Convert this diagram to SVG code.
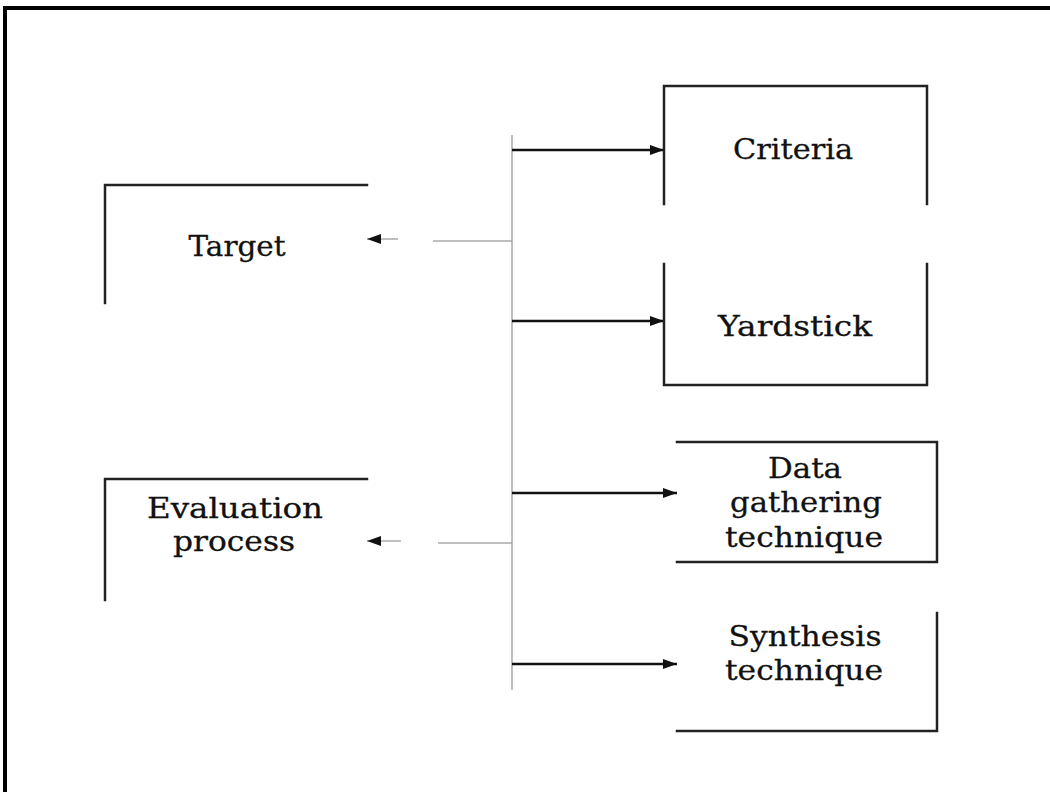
<svg xmlns="http://www.w3.org/2000/svg" width="1050" height="792" viewBox="0 0 1050 792">
<style>
.frame{fill:none;stroke:#000;stroke-width:4}
.box{fill:none;stroke:#222;stroke-width:2.5;stroke-linecap:square}
.lbl{font-family:"DejaVu Serif","Liberation Serif",serif;font-size:28px;fill:#111;text-anchor:middle;stroke:#111;stroke-width:0.3}
.arr{stroke:#111;stroke-width:2.4;fill:none}
.thin{stroke:#aaa;stroke-width:1.5;fill:none}
</style>
<defs>
<marker id="ah" viewBox="0 0 14 10" refX="14" refY="5" markerWidth="14" markerHeight="10" markerUnits="userSpaceOnUse" orient="auto"><path d="M0,0 L14,5 L0,10 z" fill="#111"/></marker>
</defs>
<rect class="frame" x="5" y="8" width="1060" height="800"/>
<g id="connectors">
<line class="thin" x1="512" y1="135" x2="512" y2="690"/>
<line class="arr" x1="512" y1="150" x2="664" y2="150" marker-end="url(#ah)"/>
<line class="arr" x1="512" y1="321" x2="664" y2="321" marker-end="url(#ah)"/>
<line class="arr" x1="512" y1="493" x2="677" y2="493" marker-end="url(#ah)"/>
<line class="arr" x1="512" y1="664" x2="677" y2="664" marker-end="url(#ah)"/>
<line class="thin" x1="512" y1="241" x2="433" y2="241"/>
<line class="thin" x1="398" y1="239" x2="367" y2="239" marker-end="url(#ah)"/>
<line class="thin" x1="512" y1="543" x2="438" y2="543"/>
<line class="thin" x1="401" y1="541" x2="367" y2="541" marker-end="url(#ah)"/>
</g>
<g id="target">
<path class="box" d="M105,303 V185 H367"/>
<text class="lbl" x="237" y="256" textLength="97" lengthAdjust="spacingAndGlyphs">Target</text>
</g>
<g id="evaluation">
<path class="box" d="M105,600 V479 H367"/>
<text class="lbl" x="235" y="518" textLength="176" lengthAdjust="spacingAndGlyphs">Evaluation</text>
<text class="lbl" x="234" y="551" textLength="122" lengthAdjust="spacingAndGlyphs">process</text>
</g>
<g id="criteria">
<path class="box" d="M664,204 V86 H927 V204"/>
<text class="lbl" x="793" y="159" textLength="120" lengthAdjust="spacingAndGlyphs">Criteria</text>
</g>
<g id="yardstick">
<path class="box" d="M664,264 V385 H927 V264"/>
<text class="lbl" x="795" y="336" textLength="154" lengthAdjust="spacingAndGlyphs">Yardstick</text>
</g>
<g id="data">
<path class="box" d="M677,442 H937 V562 H677"/>
<text class="lbl" x="805" y="478" textLength="74" lengthAdjust="spacingAndGlyphs">Data</text>
<text class="lbl" x="806" y="512" textLength="152" lengthAdjust="spacingAndGlyphs">gathering</text>
<text class="lbl" x="804" y="547" textLength="158" lengthAdjust="spacingAndGlyphs">technique</text>
</g>
<g id="synthesis">
<path class="box" d="M937,613 V731 H677"/>
<text class="lbl" x="805" y="646" textLength="153" lengthAdjust="spacingAndGlyphs">Synthesis</text>
<text class="lbl" x="804" y="680" textLength="158" lengthAdjust="spacingAndGlyphs">technique</text>
</g>
</svg>
